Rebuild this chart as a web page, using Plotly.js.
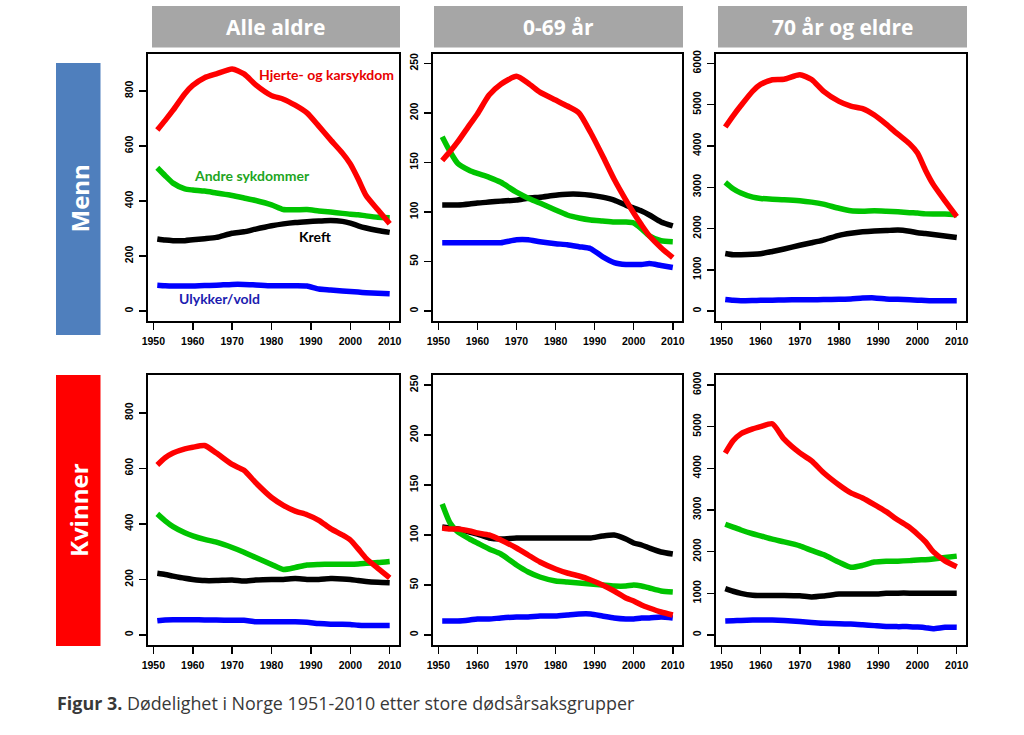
<!DOCTYPE html>
<html>
<head>
<meta charset="utf-8">
<script src="https://cdn.plot.ly/plotly-3.0.1.min.js"></script>
<style>
html,body{margin:0;padding:0;background:#fff;}
#chart{width:1024px;height:735px;}
</style>
</head>
<body>
<div id="chart"></div>
<script>
// ---- Data ----
const years = [1951,1953,1955,1958,1960,1963,1966,1970,1973,1976,1980,1983,1986,1989,1992,1995,1998,2000,2002,2004,2007,2010];
const xTicks = [1950,1960,1970,1980,1990,2000,2010];
const columnTitles = ["Alle aldre","0-69 år","70 år og eldre"];
const rowTitles = ["Menn","Kvinner"];
const seriesNames = ["Hjerte- og karsykdom","Andre sykdommer","Kreft","Ulykker/vold"];
const caption = "Dødelighet i Norge 1951-2010 etter store dødsårsaksgrupper";

// Menn, alle aldre
const menAllHeart    = [658,693,730,790,820,848,862,880,862,822,783,770,748,720,672,622,574,535,480,420,368,317];
const menAllOther    = [521,492,465,444,440,436,429,420,411,402,386,369,368,369,364,360,355,352,350,346,341,339];
const menAllCancer   = [262,258,256,256,259,263,268,283,288,298,310,317,322,325,327,329,326,320,310,302,293,286];
const menAllAccident = [94,92,91,91,91,93,94,97,97,95,92,92,92,91,80,77,73,71,69,67,65,63];
// Menn, 0-69 år
const men069Heart    = [152,161,171,188,199,218,229,237,230,221,213,207,200,180,157,133,112,99,87,76,64,54];
const men069Other    = [176,161,149,142,139,135,130,120,114,109,102,97,94,92,91,90,90,89,83,76,71,70];
const men069Cancer   = [107,107,107,108,109,110,111,112,114,115,117,118,118,117,115,112,107,104,101,97,90,86];
const men069Accident = [69,69,69,69,69,69,69,72,72,70,68,67,65,63,55,49,47,47,47,48,46,44];
// Menn, 70 år og eldre
const men70Heart     = [4459,4730,4980,5330,5490,5605,5615,5725,5610,5330,5080,4965,4905,4750,4530,4285,4050,3830,3420,3070,2670,2290];
const men70Other     = [3120,2965,2860,2760,2730,2710,2700,2675,2640,2590,2490,2430,2420,2430,2420,2405,2385,2375,2355,2350,2350,2335];
const men70Cancer    = [1395,1365,1365,1375,1390,1445,1505,1595,1655,1720,1835,1885,1920,1940,1950,1965,1935,1900,1880,1855,1820,1785];
const men70Accident  = [280,260,250,255,260,265,270,275,275,280,285,295,315,320,295,285,275,265,255,250,250,250];
// Kvinner, alle aldre
const womenAllHeart    = [612,638,655,670,676,682,655,614,593,548,495,467,446,433,413,383,360,342,310,276,240,206];
const womenAllOther    = [436,411,390,368,357,344,334,315,298,279,254,236,243,252,254,255,255,255,256,258,261,265];
const womenAllCancer   = [222,218,212,204,200,196,196,198,194,198,200,200,203,200,200,203,202,200,196,193,190,188];
const womenAllAccident = [51,54,55,55,55,54,54,53,53,48,48,48,48,46,41,39,39,38,35,34,34,34];
// Kvinner, 0-69 år
const women069Heart    = [107,106,106,104,102,100,95,87,80,73,66,62,59,55,50,44,37,34,30,27,23,20];
const women069Other    = [131,112,103,96,92,86,81,70,63,58,54,53,52,51,50,49,49,50,49,47,44,43];
const women069Cancer   = [108,107,106,103,101,97,96,97,97,97,97,97,97,97,99,100,96,92,90,87,83,81];
const women069Accident = [14,14,14,15,16,16,17,18,18,19,19,20,21,21,19,17,16,16,17,17,18,17];
// Kvinner, 70 år og eldre
const women70Heart     = [4365,4660,4830,4945,5000,5070,4700,4370,4180,3900,3600,3410,3290,3130,2960,2760,2580,2420,2240,2000,1780,1640];
const women70Other     = [2658,2590,2520,2430,2380,2300,2235,2140,2030,1930,1745,1625,1670,1750,1772,1772,1785,1800,1808,1825,1860,1893];
const women70Cancer    = [1111,1050,1000,955,950,950,950,940,915,935,983,983,983,983,1000,1005,1005,1005,1005,1005,1005,1005];
const women70Accident  = [338,345,350,360,362,362,350,322,300,282,270,262,245,225,205,201,201,190,175,150,185,185];

const yRanges = [[-36,936],[-10,260],[-240,6240]];
const yTicks = [[0,200,400,600,800],[0,50,100,150,200,250],[0,1000,2000,3000,4000,5000,6000]];

// ---- Layout helpers ----
const W = 1024, H = 735;
const px = x => x / W;
const py = y => 1 - y / H;
const colX = [[148,399],[433,682],[716,966]];
const rowY = [[53.5,321],[375,645]];
const lineColors = ["#ff0000","#00c400","#000000","#0000ff"];
const labelColors = ["#e80000","#1ea51e","#000000","#1c1cb0"];

const panels = [
  [menAllHeart,menAllOther,menAllCancer,menAllAccident],
  [men069Heart,men069Other,men069Cancer,men069Accident],
  [men70Heart,men70Other,men70Cancer,men70Accident],
  [womenAllHeart,womenAllOther,womenAllCancer,womenAllAccident],
  [women069Heart,women069Other,women069Cancer,women069Accident],
  [women70Heart,women70Other,women70Cancer,women70Accident]
];

const traces = [];
const layout = {
  width: W, height: H,
  margin: {l:0,r:0,t:0,b:0},
  paper_bgcolor: "#ffffff",
  plot_bgcolor: "#ffffff",
  showlegend: false,
  shapes: [],
  annotations: []
};

const drawOrder = [3,2,1,0];
panels.forEach((series, p) => {
  const row = Math.floor(p / 3), col = p % 3;
  const n = p + 1;
  const xa = n === 1 ? "x" : "x" + n;
  const ya = n === 1 ? "y" : "y" + n;
  drawOrder.forEach(s => {
    traces.push({
      x: years, y: series[s], xaxis: xa, yaxis: ya,
      type: "scatter", mode: "lines",
      line: {color: lineColors[s], width: 5.5, shape: "spline", smoothing: 0.6},
      name: seriesNames[s], hoverinfo: "skip"
    });
  });
  const axCommon = {
    showgrid: false, zeroline: false,
    showline: true, mirror: true, linecolor: "#000", linewidth: 2,
    ticks: "outside", ticklen: 7, tickwidth: 1.5, tickcolor: "#000",
    tickfont: {family: "Liberation Sans, Arial, sans-serif", size: 10.5, color: "#000", weight: "bold"},
    fixedrange: true
  };
  layout["xaxis" + (n === 1 ? "" : n)] = Object.assign({}, axCommon, {
    domain: [px(colX[col][0]), px(colX[col][1])],
    range: [1948.64, 2012.36],
    tickmode: "array", tickvals: xTicks, ticktext: xTicks.map(String),
    anchor: ya, ticklabelstandoff: 2
  });
  layout["yaxis" + (n === 1 ? "" : n)] = Object.assign({}, axCommon, {
    domain: [py(rowY[row][1]), py(rowY[row][0])],
    range: yRanges[col],
    tickmode: "array", tickvals: yTicks[col], ticktext: yTicks[col].map(String),
    tickangle: -90, anchor: xa, ticklabelstandoff: 2
  });
});

// Column header boxes
const headerX = [[152,400],[434,683],[718,967]];
headerX.forEach((hx, i) => {
  layout.shapes.push({type:"rect", xref:"paper", yref:"paper",
    x0: px(hx[0]), x1: px(hx[1]), y0: py(47.5), y1: py(6),
    fillcolor:"#a6a6a6", line:{width:0}, layer:"below"});
  layout.annotations.push({xref:"paper", yref:"paper", x: px((hx[0]+hx[1])/2), y: py(27),
    text: "<b>" + columnTitles[i] + "</b>", showarrow:false, xanchor:"center", yanchor:"middle",
    font:{family:"Open Sans, sans-serif", size:21, color:"#ffffff"}});
});

// Row header boxes
const rowBoxY = [[63,335],[375,646]];
const rowColors = ["#4f7fbd","#ff0000"];
rowBoxY.forEach((ry, i) => {
  layout.shapes.push({type:"rect", xref:"paper", yref:"paper",
    x0: px(56), x1: px(100.5), y0: py(ry[1]), y1: py(ry[0]),
    fillcolor: rowColors[i], line:{width:0}, layer:"below"});
  layout.annotations.push({xref:"paper", yref:"paper", x: px(78.5), y: py((ry[0]+ry[1])/2),
    text: "<b>" + rowTitles[i] + "</b>", showarrow:false, textangle:-90,
    xanchor:"center", yanchor:"middle",
    font:{family:"Open Sans, sans-serif", size:24, color:"#ffffff"}});
});

// Series labels in first panel
const labelPos = [[326,74],[251.5,175],[314.5,237],[219,299]];
labelPos.forEach((lp, s) => {
  layout.annotations.push({xref:"paper", yref:"paper", x: px(lp[0]), y: py(lp[1]),
    text: "<b>" + seriesNames[s] + "</b>", showarrow:false, xanchor:"center", yanchor:"middle",
    font:{family:"Lato, Open Sans, sans-serif", size:14, color: labelColors[s]}});
});

// Caption
layout.annotations.push({xref:"paper", yref:"paper", x: px(55), y: py(703),
  text: "<b>Figur 3.</b> " + caption, showarrow:false, xanchor:"left", yanchor:"middle",
  font:{family:"Open Sans, sans-serif", size:17.9, color:"#383838"}});

Plotly.newPlot("chart", traces, layout, {displayModeBar:false, staticPlot:true});
</script>
</body>
</html>
